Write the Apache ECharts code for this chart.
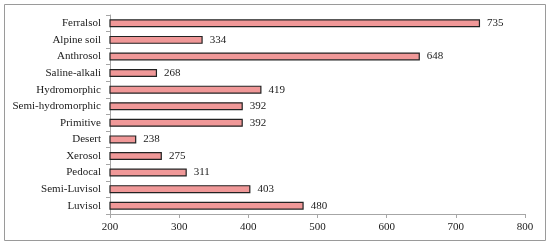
<!DOCTYPE html>
<html>
<head>
<meta charset="utf-8">
<script src="https://cdn.jsdelivr.net/npm/echarts@6/dist/echarts.min.js"></script>
<style>
  html, body { margin: 0; padding: 0; background: #fff; }
  #chart { width: 550px; height: 246px; }
</style>
</head>
<body>
<div id="chart"></div>
<script>
// soil types, listed bottom to top as the category axis draws them
var soils = ['Luvisol', 'Semi-Luvisol', 'Pedocal', 'Xerosol', 'Desert', 'Primitive',
    'Semi-hydromorphic', 'Hydromorphic', 'Saline-alkali', 'Anthrosol', 'Alpine soil', 'Ferralsol'];
var values = [480, 403, 311, 275, 238, 392, 392, 419, 268, 648, 334, 735];
var xTicks = [200, 300, 400, 500, 600, 700, 800];

var chart = echarts.init(document.getElementById('chart'));

var option = {
    animation: false,
    textStyle: { fontFamily: 'Liberation Serif' },
    graphic: [{
        type: 'rect',
        shape: { x: 4.5, y: 4.5, width: 541, height: 236 },
        style: { fill: 'none', stroke: '#9a9a9a', lineWidth: 1 }
    }],
    grid: { left: 110, right: 25, top: 15, bottom: 32 },
    xAxis: {
        type: 'value',
        min: xTicks[0],
        max: xTicks[xTicks.length - 1],
        interval: 100,
        axisLine: { show: true, lineStyle: { color: '#a6a6a6' } },
        axisTick: { show: true, length: 4, lineStyle: { color: '#a6a6a6' } },
        splitLine: { show: false },
        axisLabel: { color: '#1a1a1a', fontSize: 11, margin: 8 }
    },
    yAxis: {
        type: 'category',
        data: soils,
        axisLine: { lineStyle: { color: '#a6a6a6' } },
        axisTick: { show: true, length: 4, lineStyle: { color: '#a6a6a6' } },
        axisLabel: { color: '#1a1a1a', fontSize: 11, margin: 9 }
    },
    series: [{
        type: 'bar',
        data: values,
        barWidth: 8,
        itemStyle: { color: '#f09898', borderColor: '#222', borderWidth: 1.2 },
        label: {
            show: true,
            position: 'right',
            distance: 7,
            color: '#1a1a1a',
            fontSize: 11,
            fontFamily: 'Liberation Serif'
        }
    }]
};

chart.setOption(option);
</script>
</body>
</html>
